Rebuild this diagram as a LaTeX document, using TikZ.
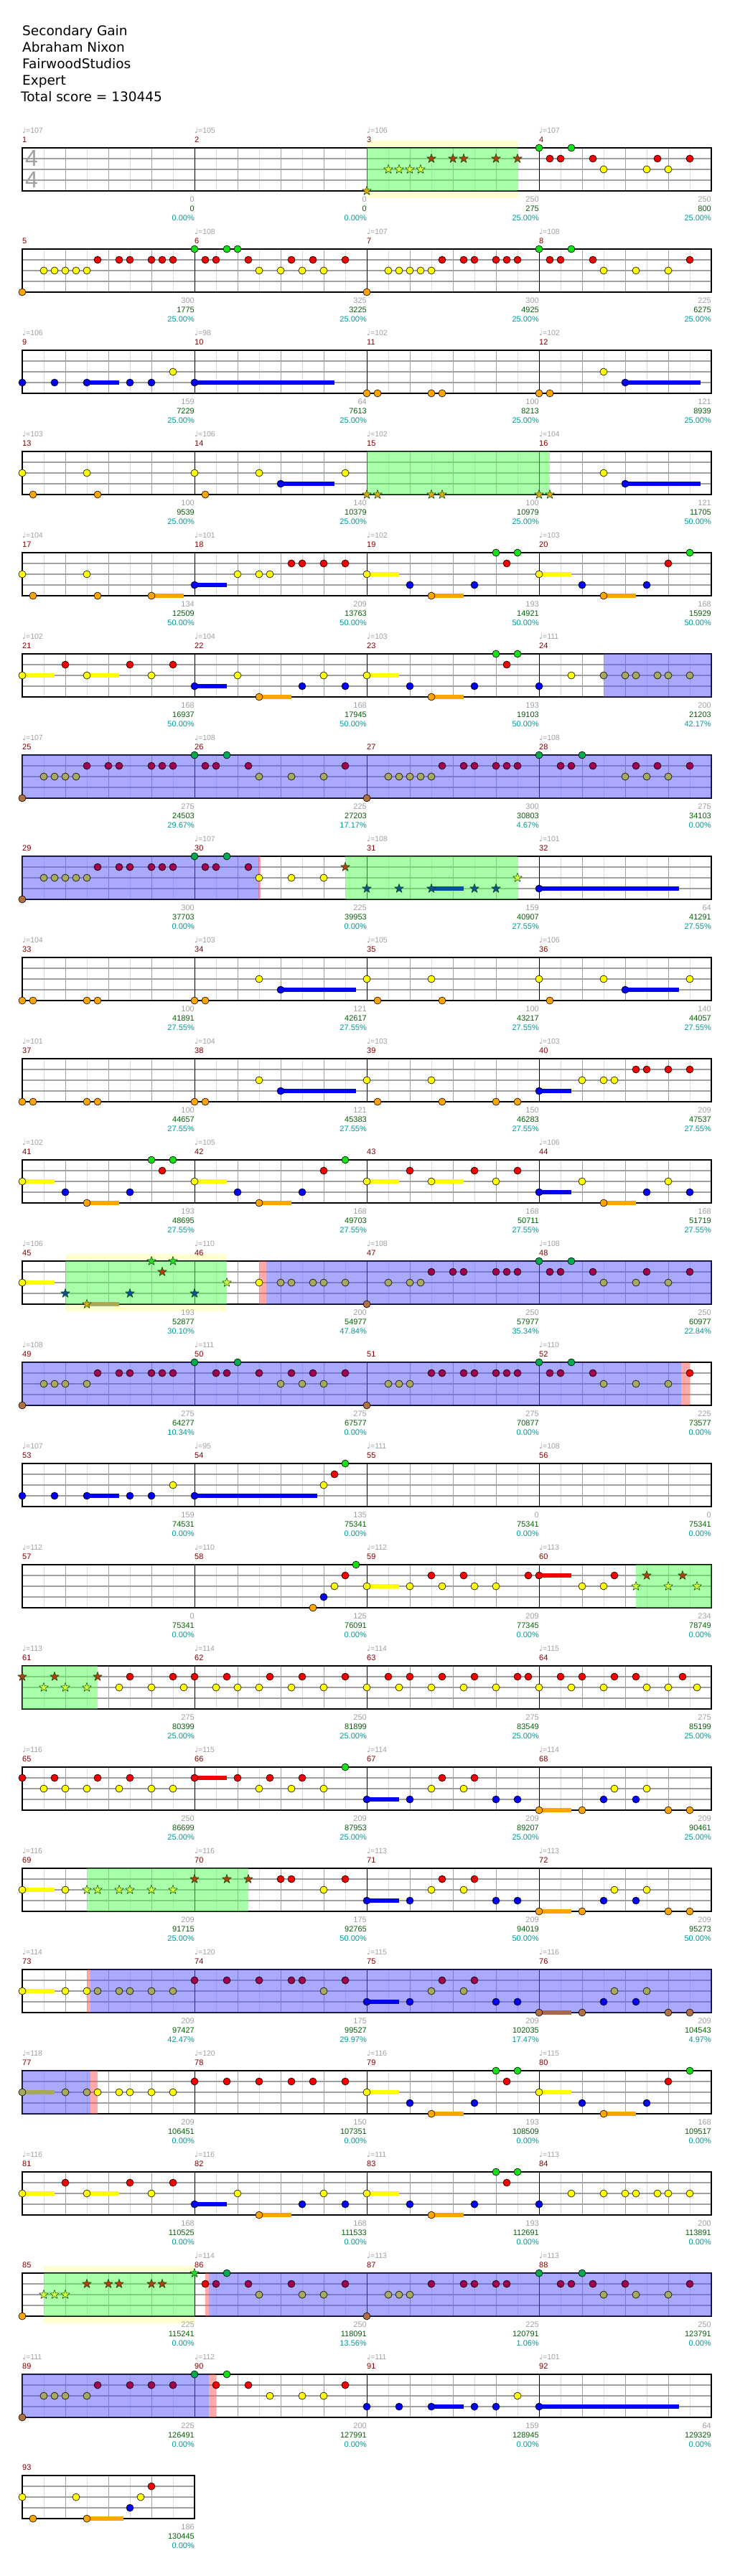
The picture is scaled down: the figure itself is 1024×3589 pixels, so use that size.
\documentclass[tikz,border=0pt]{standalone}
\usepackage{fontspec}
\setmainfont{Liberation Sans}
\newfontfamily\titlefont{DejaVu Sans}
\newfontfamily\symfont{DejaVu Sans}
\usetikzlibrary{shapes.geometric}

\definecolor{cG}{RGB}{20,225,20}
\definecolor{cR}{RGB}{245,0,0}
\definecolor{cY}{RGB}{255,255,0}
\definecolor{cB}{RGB}{0,0,245}
\definecolor{cO}{RGB}{255,165,0}
\definecolor{aG}{RGB}{0,170,80}
\definecolor{aR}{RGB}{160,0,80}
\definecolor{aY}{RGB}{168,168,96}
\definecolor{aO}{RGB}{176,112,64}
\definecolor{aOs}{RGB}{168,104,80}
\definecolor{sG}{RGB}{40,220,40}
\definecolor{sR}{RGB}{176,64,16}
\definecolor{sY}{RGB}{210,255,60}
\definecolor{sB}{RGB}{16,80,144}
\definecolor{sO}{RGB}{220,170,20}
\definecolor{sBs}{RGB}{0,80,176}
\definecolor{tgray}{RGB}{160,160,160}
\definecolor{mred}{RGB}{128,0,0}
\definecolor{sgreen}{RGB}{0,100,0}
\definecolor{scyan}{RGB}{0,153,153}

% one staff of #1 measures, top edge at y=0
\newcommand{\chstaff}[1]{%
  \fill[white] (31,0) rectangle ({31+240*#1},60);
  \pgfmathtruncatemacro{\chnh}{4*#1}%
  \pgfmathtruncatemacro{\chnb}{4*#1-1}%
  \foreach \kk in {1,...,\chnh} \draw[halfline] ({60*\kk+1},0) -- ({60*\kk+1},60);
  \foreach \kk in {1,...,\chnb} \draw[beatline] ({60*\kk+31},0) -- ({60*\kk+31},60);
  \foreach \yy in {15,30,45} \draw[laneline] (31,\yy) -- ({31+240*#1},\yy);
  \ifnum#1>1 \pgfmathtruncatemacro{\chnm}{#1-1}%
    \foreach \mm in {1,...,\chnm} \draw[barline] ({240*\mm+31},0) -- ({240*\mm+31},60);\fi
  \draw[border] (31,0) rectangle ({31+240*#1},60);
}
\newcommand{\chband}[2]{\fill[bandfill] ({31+15*#1},-10) rectangle ({31+15*#2},70);}
\newcommand{\chphrase}[2]{\fill[phrasefill] ({31+15*#1},0) rectangle ({31+15*#2},60);}
\newcommand{\chact}[2]{\fill[activefill] ({31+15*#1},0) rectangle ({31+15*#2},60);}
\newcommand{\chstripe}[2]{\fill[stripefill] ({31+15*#1},0) rectangle ({31+15*#2},60);}
\newcommand{\chsus}[4]{\fill[#4] ({31+15*#2},{15*#1-3}) rectangle ({31+15*#3},{15*#1+3});}
\newcommand{\chnotes}[3]{\foreach \tm in {#3} \node[#1#2] at ({31+15*\tm},{15*#2}) {};}
\newcommand{\chtempo}[1]{\foreach \kk/\tv in {#1} \node[tempo] at ({31+240*\kk},-24) {{\symfont ♩}=\tv};}
\newcommand{\chmeas}[2]{\foreach \kk in {0,...,#2} {\pgfmathtruncatemacro{\mnum}{#1+\kk}\node[mnum] at ({31+240*\kk},-11) {\mnum};}}
\newcommand{\chstats}[1]{\foreach \kk/\vg/\vs/\vp in {#1} {%
  \node[sgray] at ({271+240*\kk},72) {\vg};
  \node[sgrn] at ({271+240*\kk},85) {\vs};
  \node[scyn] at ({271+240*\kk},98) {\vp};}}

\begin{document}
\begin{tikzpicture}[x=1pt, y=-1pt,
    note/.style={circle, draw=black, line width=0.6pt, minimum size=10pt, inner sep=0pt},
    n0/.style={note, fill=cG}, n1/.style={note, fill=cR}, n2/.style={note, fill=cY},
    n3/.style={note, fill=cB}, n4/.style={note, fill=cO},
    a0/.style={note, fill=aG}, a1/.style={note, fill=aR}, a2/.style={note, fill=aY},
    a3/.style={note, fill=cB}, a4/.style={note, fill=aO},
    spnote/.style={star, star points=5, star point ratio=2.4, minimum size=13pt, inner sep=0pt,
      draw={rgb,255:red,0;green,70;blue,0}, line width=0.5pt},
    s0/.style={spnote, fill=sG}, s1/.style={spnote, fill=sR}, s2/.style={spnote, fill=sY},
    s3/.style={spnote, fill=sB}, s4/.style={spnote, fill=sO},
    halfline/.style={draw={rgb,255:red,220;green,220;blue,220}, line width=0.8pt},
    beatline/.style={draw={rgb,255:red,160;green,160;blue,160}, line width=0.8pt},
    laneline/.style={draw={rgb,255:red,160;green,160;blue,160}, line width=1.1pt},
    barline/.style={draw=black, line width=0.7pt},
    border/.style={draw=black, line width=1.2pt},
    bandfill/.style={fill={rgb,255:red,255;green,255;blue,208}},
    phrasefill/.style={fill={rgb,255:red,85;green,255;blue,85}, fill opacity=0.5},
    activefill/.style={fill={rgb,255:red,85;green,85;blue,255}, fill opacity=0.5},
    stripefill/.style={fill={rgb,255:red,255;green,85;blue,85}, fill opacity=0.5},
    title/.style={anchor=base west, inner sep=0pt, font=\titlefont\fontsize{18.5}{22}\selectfont},
    timesig/.style={inner sep=0pt, text=tgray, font=\fontsize{32}{32}\selectfont},
    tempo/.style={anchor=west, inner sep=0pt, text=tgray, font=\fontsize{10.5}{12}\selectfont},
    mnum/.style={anchor=west, inner sep=0pt, text=mred, font=\fontsize{11}{12}\selectfont},
    sgray/.style={anchor=east, inner sep=0pt, text=tgray, font=\fontsize{11}{12}\selectfont},
    sgrn/.style={anchor=east, inner sep=0pt, text=sgreen, font=\fontsize{11}{12}\selectfont},
    scyn/.style={anchor=east, inner sep=0pt, text=scyan, font=\fontsize{11}{12}\selectfont}
  ]
  \useasboundingbox (0,0) rectangle (1024,3589);

  \node[title] (song) at (31,50) {Secondary Gain};
  \node[title] (artist) at (31,73) {Abraham Nixon};
  \node[title] (charter) at (31,96) {FairwoodStudios};
  \node[title] (level) at (31,119) {Expert};
  \node[title] (total) at (29,142) {Total score = 130445};

  % row 1: measures 1-4
  \begin{scope}[shift={(0,206)}]
    \chband{32}{46}
    \chstaff{4}
    \node[timesig] (sigtop) at (44,14.5) {4};
    \node[timesig] (sigbot) at (44,44.5) {4};
    \chphrase{32}{46}
    \chnotes{s}{4}{32}
    \chnotes{s}{2}{34,35,36,37}
    \chnotes{s}{1}{38,40,41,44,46}
    \chnotes{n}{0}{48,51}
    \chnotes{n}{1}{49,50,53,59,62}
    \chnotes{n}{2}{54,58,60}
    \chtempo{0/107,1/105,2/106,3/107}
    \chmeas{1}{3}
    \chstats{0/0/0/0.00\%,1/0/0/0.00\%,2/250/275/25.00\%,3/250/800/25.00\%}
  \end{scope}

  % row 2: measures 5-8
  \begin{scope}[shift={(0,347)}]
    \chstaff{4}
    \chnotes{n}{4}{0,32}
    \chnotes{n}{2}{2,3,4,5,6,22,24,26,28,34,35,36,37,38,54,57,60}
    \chnotes{n}{1}{7,9,10,12,13,14,17,18,21,25,27,30,39,41,42,44,45,46,49,50,53,62}
    \chnotes{n}{0}{16,19,20,48,51}
    \chtempo{1/108,2/107,3/108}
    \chmeas{5}{3}
    \chstats{0/300/1775/25.00\%,1/325/3225/25.00\%,2/300/4925/25.00\%,3/225/6275/25.00\%}
  \end{scope}

  % row 3: measures 9-12
  \begin{scope}[shift={(0,488)}]
    \chstaff{4}
    \chsus{3}{6}{9}{cB}
    \chsus{3}{16}{29}{cB}
    \chsus{3}{56}{63}{cB}
    \chnotes{n}{3}{0,3,6,10,12,16,56}
    \chnotes{n}{2}{14,54}
    \chnotes{n}{4}{32,33,38,39,48,49}
    \chtempo{0/106,1/98,2/102,3/102}
    \chmeas{9}{3}
    \chstats{0/159/7229/25.00\%,1/64/7613/25.00\%,2/100/8213/25.00\%,3/121/8939/25.00\%}
  \end{scope}

  % row 4: measures 13-16
  \begin{scope}[shift={(0,629)}]
    \chstaff{4}
    \chphrase{32}{49}
    \chsus{3}{24}{29}{cB}
    \chsus{3}{56}{63}{cB}
    \chnotes{n}{2}{0,6,16,22,30,54}
    \chnotes{n}{4}{1,7,17}
    \chnotes{n}{3}{24,56}
    \chnotes{s}{4}{32,33,38,39,48,49}
    \chtempo{0/103,1/106,2/102,3/104}
    \chmeas{13}{3}
    \chstats{0/100/9539/25.00\%,1/140/10379/25.00\%,2/100/10979/25.00\%,3/121/11705/50.00\%}
  \end{scope}

  % row 5: measures 17-20
  \begin{scope}[shift={(0,770)}]
    \chstaff{4}
    \chsus{4}{12}{15}{cO}
    \chsus{3}{16}{19}{cB}
    \chsus{2}{32}{35}{cY}
    \chsus{4}{38}{41}{cO}
    \chsus{2}{48}{51}{cY}
    \chsus{4}{54}{57}{cO}
    \chnotes{n}{2}{0,6,20,22,23,32,48}
    \chnotes{n}{4}{1,7,12,38,54}
    \chnotes{n}{3}{16,36,42,52,58}
    \chnotes{n}{1}{25,26,28,30,45,60}
    \chnotes{n}{0}{44,46,62}
    \chtempo{0/104,1/101,2/102,3/103}
    \chmeas{17}{3}
    \chstats{0/134/12509/50.00\%,1/209/13763/50.00\%,2/193/14921/50.00\%,3/168/15929/50.00\%}
  \end{scope}

  % row 6: measures 21-24
  \begin{scope}[shift={(0,911)}]
    \chstaff{4}
    \chact{54}{64}
    \chsus{2}{0}{3}{cY}
    \chsus{2}{6}{9}{cY}
    \chsus{3}{16}{19}{cB}
    \chsus{4}{22}{25}{cO}
    \chsus{2}{32}{35}{cY}
    \chsus{4}{38}{41}{cO}
    \chnotes{n}{2}{0,6,12,20,28,32,51}
    \chnotes{n}{1}{4,10,14,45}
    \chnotes{n}{3}{16,26,30,36,42,48}
    \chnotes{n}{4}{22,38}
    \chnotes{n}{0}{44,46}
    \chnotes{a}{2}{54,56,57,59,60,62}
    \chtempo{0/102,1/104,2/103,3/111}
    \chmeas{21}{3}
    \chstats{0/168/16937/50.00\%,1/168/17945/50.00\%,2/193/19103/50.00\%,3/200/21203/42.17\%}
  \end{scope}

  % row 7: measures 25-28
  \begin{scope}[shift={(0,1052)}]
    \chstaff{4}
    \chact{0}{64}
    \chnotes{a}{4}{0,32}
    \chnotes{a}{2}{2,3,4,5,22,25,28,34,35,36,37,38,56,58,60}
    \chnotes{a}{1}{6,8,9,12,13,14,17,18,21,30,39,41,42,44,45,46,50,51,53,57,59,62}
    \chnotes{a}{0}{16,19,48,52}
    \chtempo{0/107,1/108,3/108}
    \chmeas{25}{3}
    \chstats{0/275/24503/29.67\%,1/225/27203/17.17\%,2/300/30803/4.67\%,3/275/34103/0.00\%}
  \end{scope}

  % row 8: measures 29-32
  \begin{scope}[shift={(0,1193)}]
    \chstaff{4}
    \chact{0}{22}
    \chstripe{21.9}{22.1}
    \chphrase{30}{46}
    \chsus{3}{38}{41}{sBs}
    \chsus{3}{48}{61}{cB}
    \chnotes{a}{4}{0}
    \chnotes{a}{2}{2,3,4,5,6}
    \chnotes{a}{1}{7,9,10,12,13,14,17,18,21}
    \chnotes{a}{0}{16,19}
    \chnotes{n}{2}{22,25,28}
    \chnotes{s}{1}{30}
    \chnotes{s}{2}{46}
    \chnotes{s}{3}{32,35,38,42,44}
    \chnotes{n}{3}{48}
    \chtempo{1/107,2/108,3/101}
    \chmeas{29}{3}
    \chstats{0/300/37703/0.00\%,1/225/39953/0.00\%,2/159/40907/27.55\%,3/64/41291/27.55\%}
  \end{scope}

  % row 9: measures 33-36
  \begin{scope}[shift={(0,1334)}]
    \chstaff{4}
    \chsus{3}{24}{31}{cB}
    \chsus{3}{56}{61}{cB}
    \chnotes{n}{4}{0,1,6,7,16,17,33,39,49}
    \chnotes{n}{2}{22,32,38,48,54,62}
    \chnotes{n}{3}{24,56}
    \chtempo{0/104,1/103,2/105,3/106}
    \chmeas{33}{3}
    \chstats{0/100/41891/27.55\%,1/121/42617/27.55\%,2/100/43217/27.55\%,3/140/44057/27.55\%}
  \end{scope}

  % row 10: measures 37-40
  \begin{scope}[shift={(0,1475)}]
    \chstaff{4}
    \chsus{3}{24}{31}{cB}
    \chsus{3}{48}{51}{cB}
    \chnotes{n}{4}{0,1,6,7,16,17,33,39,44,46}
    \chnotes{n}{2}{22,32,38,52,54,55}
    \chnotes{n}{3}{24,48}
    \chnotes{n}{1}{57,58,60,62}
    \chtempo{0/101,1/104,2/103,3/103}
    \chmeas{37}{3}
    \chstats{0/100/44657/27.55\%,1/121/45383/27.55\%,2/150/46283/27.55\%,3/209/47537/27.55\%}
  \end{scope}

  % row 11: measures 41-44
  \begin{scope}[shift={(0,1616)}]
    \chstaff{4}
    \chsus{2}{0}{3}{cY}
    \chsus{4}{6}{9}{cO}
    \chsus{2}{16}{19}{cY}
    \chsus{4}{22}{25}{cO}
    \chsus{2}{32}{35}{cY}
    \chsus{2}{38}{41}{cY}
    \chsus{3}{48}{51}{cB}
    \chsus{4}{54}{57}{cO}
    \chnotes{n}{2}{0,16,32,38,44,52,60}
    \chnotes{n}{3}{4,10,20,26,48,58,62}
    \chnotes{n}{4}{6,22,54}
    \chnotes{n}{0}{12,14,30}
    \chnotes{n}{1}{13,28,36,42,46}
    \chtempo{0/102,1/105,3/106}
    \chmeas{41}{3}
    \chstats{0/193/48695/27.55\%,1/168/49703/27.55\%,2/168/50711/27.55\%,3/168/51719/27.55\%}
  \end{scope}

  % row 12: measures 45-48
  \begin{scope}[shift={(0,1757)}]
    \chband{4}{19}
    \chstaff{4}
    \chphrase{4}{19}
    \chstripe{22}{22.65}
    \chact{22.65}{64}
    \chsus{2}{0}{3}{cY}
    \chsus{4}{6}{9}{cO}
    \fill[aY] (121,57) rectangle (166,61.5);
    \chnotes{n}{2}{0,22}
    \chnotes{s}{3}{4,10,16}
    \chnotes{s}{4}{6}
    \chnotes{s}{0}{12,14}
    \chnotes{s}{1}{13}
    \chnotes{s}{2}{19}
    \chnotes{a}{2}{24,25,27,28,30,34,36,37,54,57,60}
    \chnotes{a}{4}{32}
    \chnotes{a}{1}{38,40,41,44,45,46,49,50,53,58,62}
    \chnotes{a}{0}{48,51}
    \chtempo{0/106,1/110,2/108,3/108}
    \chmeas{45}{3}
    \chstats{0/193/52877/30.10\%,1/200/54977/47.84\%,2/250/57977/35.34\%,3/250/60977/22.84\%}
  \end{scope}

  % row 13: measures 49-52
  \begin{scope}[shift={(0,1898)}]
    \chstaff{4}
    \chact{0}{61.2}
    \chstripe{61.2}{62}
    \chnotes{a}{4}{0,32}
    \chnotes{a}{2}{2,3,4,6,24,26,28,34,35,36,54,57,60}
    \chnotes{a}{1}{7,9,10,12,13,14,18,19,22,25,27,30,38,39,41,42,44,45,46,49,50,53}
    \chnotes{a}{0}{16,20,48,51}
    \chnotes{n}{1}{62}
    \chtempo{0/108,1/111,3/110}
    \chmeas{49}{3}
    \chstats{0/275/64277/10.34\%,1/275/67577/0.00\%,2/275/70877/0.00\%,3/225/73577/0.00\%}
  \end{scope}

  % row 14: measures 53-56
  \begin{scope}[shift={(0,2039)}]
    \chstaff{4}
    \chsus{3}{6}{9}{cB}
    \chsus{3}{16}{27.4}{cB}
    \chnotes{n}{3}{0,3,6,10,12,16}
    \chnotes{n}{2}{14,28}
    \chnotes{n}{1}{29}
    \chnotes{n}{0}{30}
    \chtempo{0/107,1/95,2/111,3/108}
    \chmeas{53}{3}
    \chstats{0/159/74531/0.00\%,1/135/75341/0.00\%,2/0/75341/0.00\%,3/0/75341/0.00\%}
  \end{scope}

  % row 15: measures 57-60
  \begin{scope}[shift={(0,2180)}]
    \chstaff{4}
    \chphrase{57}{64}
    \chsus{2}{32}{35}{cY}
    \chsus{1}{48}{51}{cR}
    \chnotes{n}{4}{27}
    \chnotes{n}{3}{28}
    \chnotes{n}{2}{29,32,36,39,42,44,52,54}
    \chnotes{n}{1}{30,38,41,47,48,55}
    \chnotes{n}{0}{31}
    \chnotes{s}{2}{57,60,62.67}
    \chnotes{s}{1}{58,61.33}
    \chtempo{0/112,1/110,2/112,3/113}
    \chmeas{57}{3}
    \chstats{0/0/75341/0.00\%,1/125/76091/0.00\%,2/209/77345/0.00\%,3/234/78749/0.00\%}
  \end{scope}

  % row 16: measures 61-64
  \begin{scope}[shift={(0,2321)}]
    \chstaff{4}
    \chphrase{0}{7}
    \chnotes{s}{1}{0,3,7}
    \chnotes{s}{2}{2,4,6}
    \chnotes{n}{2}{9,12,15,18,20,22,25,28,32,35,38,41,44,48,51,54,58,60,62.67}
    \chnotes{n}{1}{10,14,16,19,23,26,30,34,36,39,42,46,47,50,52,55,57,61.33}
    \chtempo{0/113,1/114,2/114,3/115}
    \chmeas{61}{3}
    \chstats{0/275/80399/25.00\%,1/250/81899/25.00\%,2/275/83549/25.00\%,3/275/85199/25.00\%}
  \end{scope}

  % row 17: measures 65-68
  \begin{scope}[shift={(0,2462)}]
    \chstaff{4}
    \chsus{1}{16}{19}{cR}
    \chsus{3}{32}{35}{cB}
    \chsus{4}{48}{51}{cO}
    \chnotes{n}{1}{0,3,7,10,16,20,23,26,39,42}
    \chnotes{n}{2}{2,4,6,9,12,14,22,25,28,38,41,55,58}
    \chnotes{n}{0}{30}
    \chnotes{n}{3}{32,36,44,46,54,57}
    \chnotes{n}{4}{48,52,60,62}
    \chtempo{0/116,1/115,2/114,3/114}
    \chmeas{65}{3}
    \chstats{0/250/86699/25.00\%,1/209/87953/25.00\%,2/209/89207/25.00\%,3/209/90461/25.00\%}
  \end{scope}

  % row 18: measures 69-72
  \begin{scope}[shift={(0,2603)}]
    \chstaff{4}
    \chphrase{6}{21}
    \chsus{2}{0}{3}{cY}
    \chsus{3}{32}{35}{cB}
    \chsus{4}{48}{51}{cO}
    \chnotes{n}{2}{0,4,28,38,41,55,58}
    \chnotes{s}{2}{6,7,9,10,12,14}
    \chnotes{s}{1}{16,19,21}
    \chnotes{n}{1}{24,25,30,39,42}
    \chnotes{n}{3}{32,36,44,46,54,57}
    \chnotes{n}{4}{48,52,60,62}
    \chtempo{0/116,1/116,2/113,3/113}
    \chmeas{69}{3}
    \chstats{0/209/91715/25.00\%,1/175/92765/50.00\%,2/209/94019/50.00\%,3/209/95273/50.00\%}
  \end{scope}

  % row 19: measures 73-76
  \begin{scope}[shift={(0,2744)}]
    \chstaff{4}
    \chstripe{6}{6.3}
    \chact{6.3}{64}
    \chsus{2}{0}{3}{cY}
    \chsus{3}{32}{35}{cB}
    \chsus{4}{48}{51}{aOs}
    \chnotes{n}{2}{0,4,6}
    \chnotes{a}{2}{7,9,10,12,14,28,38,41,55,58}
    \chnotes{a}{1}{16,19,22,25,26,30,39,42}
    \chnotes{a}{3}{32,36,44,46,54,57}
    \chnotes{a}{4}{48,52,60,62}
    \chtempo{0/114,1/120,2/115,3/116}
    \chmeas{73}{3}
    \chstats{0/209/97427/42.47\%,1/175/99527/29.97\%,2/209/102035/17.47\%,3/209/104543/4.97\%}
  \end{scope}

  % row 20: measures 77-80
  \begin{scope}[shift={(0,2885)}]
    \chstaff{4}
    \chact{0}{6.3}
    \chstripe{6.3}{7}
    \chsus{2}{0}{3}{aY}
    \chsus{2}{32}{35}{cY}
    \chsus{4}{38}{41}{cO}
    \chsus{2}{48}{51}{cY}
    \chsus{4}{54}{57}{cO}
    \chnotes{a}{2}{0,4,6}
    \chnotes{n}{2}{7,9,10,12,14,32,48}
    \chnotes{n}{1}{16,19,22,25,27,30,45,60}
    \chnotes{n}{3}{36,42,52,58}
    \chnotes{n}{4}{38,54}
    \chnotes{n}{0}{44,46,62}
    \chtempo{0/118,1/120,2/116,3/115}
    \chmeas{77}{3}
    \chstats{0/209/106451/0.00\%,1/150/107351/0.00\%,2/193/108509/0.00\%,3/168/109517/0.00\%}
  \end{scope}

  % row 21: measures 81-84
  \begin{scope}[shift={(0,3026)}]
    \chstaff{4}
    \chsus{2}{0}{3}{cY}
    \chsus{2}{6}{9}{cY}
    \chsus{3}{16}{19}{cB}
    \chsus{4}{22}{25}{cO}
    \chsus{2}{32}{35}{cY}
    \chsus{4}{38}{41}{cO}
    \chnotes{n}{2}{0,6,12,20,28,32,51,54,56,57,59,60,62}
    \chnotes{n}{1}{4,10,14,45}
    \chnotes{n}{3}{16,26,30,36,42,48}
    \chnotes{n}{4}{22,38}
    \chnotes{n}{0}{44,46}
    \chtempo{0/116,1/116,2/111,3/113}
    \chmeas{81}{3}
    \chstats{0/168/110525/0.00\%,1/168/111533/0.00\%,2/193/112691/0.00\%,3/200/113891/0.00\%}
  \end{scope}

  % row 22: measures 85-88
  \begin{scope}[shift={(0,3167)}]
    \chband{2}{16}
    \chstaff{4}
    \chphrase{2}{16}
    \chstripe{17}{17.3}
    \chact{17.3}{64}
    \chnotes{n}{4}{0}
    \chnotes{s}{2}{2,3,4}
    \chnotes{s}{1}{6,8,9,12,13}
    \chnotes{s}{0}{16}
    \chnotes{n}{1}{17}
    \chnotes{a}{1}{18,21,25,30,38,41,42,44,45,50,51,53,56,62}
    \chnotes{a}{0}{19,48,52}
    \chnotes{a}{2}{22,26,28,34,35,36,54,57,60}
    \chnotes{a}{4}{32}
    \chtempo{1/114,2/113,3/113}
    \chmeas{85}{3}
    \chstats{0/225/115241/0.00\%,1/250/118091/13.56\%,2/225/120791/1.06\%,3/250/123791/0.00\%}
  \end{scope}

  % row 23: measures 89-92
  \begin{scope}[shift={(0,3308)}]
    \chstaff{4}
    \chact{0}{17.3}
    \chstripe{17.3}{18}
    \chsus{3}{38}{41}{cB}
    \chsus{3}{48}{61}{cB}
    \chnotes{a}{4}{0}
    \chnotes{a}{2}{2,3,4,6}
    \chnotes{a}{1}{7,10,12,14}
    \chnotes{a}{0}{16}
    \chnotes{n}{1}{18,21,30}
    \chnotes{n}{0}{19}
    \chnotes{n}{2}{23,26,28,46}
    \chnotes{n}{3}{32,35,38,42,44,48}
    \chtempo{0/111,1/112,2/111,3/101}
    \chmeas{89}{3}
    \chstats{0/225/126491/0.00\%,1/200/127991/0.00\%,2/159/128945/0.00\%,3/64/129329/0.00\%}
  \end{scope}

  % row 24: measure 93
  \begin{scope}[shift={(0,3449)}]
    \chstaff{1}
    \chsus{4}{6}{9.4}{cO}
    \chnotes{n}{2}{0,5,11}
    \chnotes{n}{4}{1,6}
    \chnotes{n}{3}{10}
    \chnotes{n}{1}{12}
    \chmeas{93}{0}
    \chstats{0/186/130445/0.00\%}
  \end{scope}
\end{tikzpicture}
\end{document}
